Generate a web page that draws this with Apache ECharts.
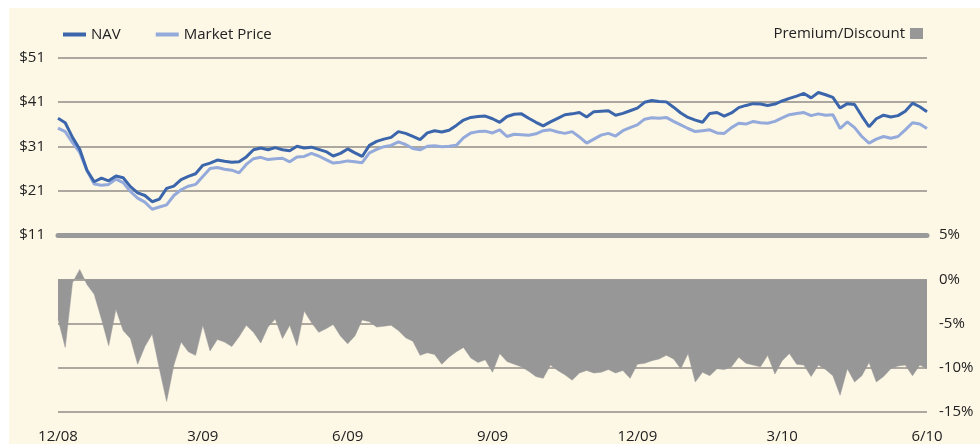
<!DOCTYPE html>
<html>
<head>
<meta charset="utf-8">
<title>NAV / Market Price</title>
<script src="https://cdn.jsdelivr.net/npm/echarts@6/dist/echarts.min.js"></script>
<style>
  html,body{margin:0;padding:0;background:#fff;}
  #panel{position:absolute;left:9px;top:8px;width:971px;height:436px;background:#fdf7e6;}
  #chart{position:absolute;left:0;top:0;width:980px;height:444px;}
</style>
</head>
<body>
<div id="panel"></div>
<div id="chart"></div>
<script>
// quarter labels along the bottom, 20 points per quarter
var tickLabels = ['12/08', '3/09', '6/09', '9/09', '12/09', '3/10', '6/10'];
var perQuarter = 20;

// NAV ($)
var nav = [
  37.3, 36.3, 33.0, 30.3, 25.6, 23.0, 23.8, 23.2, 24.3, 23.9,
  21.9, 20.5, 19.9, 18.5, 19.1, 21.5, 22.0, 23.5, 24.2, 24.8,
  26.7, 27.2, 27.9, 27.6, 27.4, 27.5, 28.6, 30.2, 30.6, 30.2,
  30.7, 30.2, 30.0, 31.0, 30.6, 30.8, 30.3, 29.8, 28.8, 29.4,
  30.4, 29.5, 28.7, 31.2, 32.1, 32.6, 33.0, 34.3, 33.9, 33.2,
  32.5, 34.0, 34.5, 34.2, 34.6, 35.7, 36.9, 37.5, 37.7, 37.8,
  37.2, 36.4, 37.7, 38.2, 38.3, 37.3, 36.4, 35.6, 36.5, 37.3,
  38.1, 38.3, 38.6, 37.6, 38.8, 38.9, 39.0, 38.0, 38.4, 39.0,
  39.6, 40.9, 41.3, 41.1, 41.0, 39.8, 38.5, 37.5, 36.9, 36.4,
  38.4, 38.6, 37.8, 38.5, 39.7, 40.2, 40.6, 40.5, 40.2, 40.5,
  41.2, 41.8, 42.3, 42.9, 41.9, 43.1, 42.6, 42.0, 39.6, 40.6,
  40.4, 37.8, 35.4, 37.2, 38.0, 37.6, 37.9, 38.9, 40.7, 39.9,
  38.8
];

// Market price ($)
var market = [
  35.1, 34.3, 31.8, 29.6, 25.5, 22.5, 22.2, 22.4, 23.6, 22.8,
  20.8, 19.3, 18.4, 16.8, 17.3, 17.8, 19.9, 21.2, 22.0, 22.4,
  24.2, 26.0, 26.2, 25.8, 25.6, 25.0, 26.9, 28.2, 28.5, 28.0,
  28.2, 28.3, 27.5, 28.6, 28.7, 29.4, 28.8, 28.0, 27.2, 27.4,
  27.7, 27.5, 27.3, 29.5, 30.3, 30.9, 31.2, 32.0, 31.4, 30.5,
  30.2, 31.0, 31.1, 30.9, 31.0, 31.2, 32.9, 34.0, 34.3, 34.4,
  34.0, 34.7, 33.2, 33.7, 33.6, 33.5, 33.8, 34.5, 34.7, 34.2,
  33.9, 34.3, 33.1, 31.7, 32.6, 33.5, 33.9, 33.3, 34.5, 35.2,
  35.8, 37.1, 37.4, 37.3, 37.5, 36.6, 35.8, 35.0, 34.3, 34.5,
  34.7, 34.0, 33.9, 35.2, 36.2, 36.0, 36.6, 36.3, 36.2, 36.6,
  37.4, 38.1, 38.4, 38.6, 37.9, 38.3, 38.0, 38.1, 35.0, 36.5,
  35.2, 33.2, 31.7, 32.6, 33.2, 32.8, 33.2, 34.7, 36.3, 36.0,
  35.0
];

// Premium/Discount (%)
var premium = [
  -4.5, -7.7, -0.4, 1.1, -0.6, -1.7, -4.5, -7.5, -3.4, -5.8,
  -6.7, -9.6, -7.6, -6.2, -10.1, -13.8, -9.7, -7.1, -8.2, -8.6,
  -5.2, -8.1, -6.8, -7.1, -7.6, -6.5, -5.2, -6.0, -7.2, -5.4,
  -4.5, -6.7, -5.2, -7.5, -3.6, -4.9, -6.0, -5.6, -5.1, -6.4,
  -7.3, -6.4, -4.6, -4.8, -5.4, -5.3, -5.2, -5.8, -6.6, -7.0,
  -8.6, -8.3, -8.5, -9.6, -8.8, -8.2, -7.7, -8.9, -9.4, -9.1,
  -10.5, -8.4, -9.3, -9.6, -9.9, -10.4, -11.0, -11.2, -9.7, -10.3,
  -10.8, -11.4, -10.6, -10.3, -10.6, -10.5, -10.2, -10.6, -10.3, -11.2,
  -9.6, -9.5, -9.2, -9.0, -8.6, -9.0, -10.1, -8.4, -11.6, -10.5,
  -10.9, -10.1, -10.2, -9.9, -8.8, -9.5, -9.7, -9.9, -8.6, -10.7,
  -9.2, -8.4, -9.6, -9.7, -11.0, -9.7, -10.2, -10.9, -13.1, -10.1,
  -11.6, -10.9, -9.4, -11.6, -11.0, -10.1, -9.8, -9.7, -10.9, -9.7,
  -10.1
];

var categories = [];
for (var i = 0; i < nav.length; i++) {
  categories.push(i % perQuarter === 0 ? tickLabels[i / perQuarter] : '');
}

var FONT = 'Open Sans';
var gridColor = '#aca89f';

var myChart = echarts.init(document.getElementById('chart'));
var option = {
  animation: false,
  backgroundColor: 'transparent',
  textStyle: { fontFamily: FONT, color: '#222' },
  legend: [{
    left: 58,
    top: 22,
    itemWidth: 23,
    itemHeight: 4,
    itemGap: 35,
    icon: 'rect',
    textStyle: { fontSize: 15, color: '#222', fontFamily: FONT },
    data: ['NAV', 'Market Price']
  }, {
    right: 52,
    top: 21,
    align: 'right',
    itemWidth: 13,
    itemHeight: 11,
    icon: 'rect',
    textStyle: { fontSize: 15, color: '#222', fontFamily: FONT },
    data: ['Premium/Discount']
  }],
  grid: [
    { left: 58, right: 53, top: 57.5, height: 177.5 },
    { left: 58, right: 53, top: 235, height: 178 }
  ],
  xAxis: [{
    gridIndex: 0,
    type: 'category',
    data: categories,
    boundaryGap: false,
    axisLine: { show: true, lineStyle: { color: '#9a9a9a', width: 5 } },
    axisTick: { show: false },
    axisLabel: { show: false },
    splitLine: { show: false }
  }, {
    gridIndex: 1,
    type: 'category',
    data: categories,
    boundaryGap: false,
    axisLine: { show: false },
    axisTick: { show: false },
    axisLabel: {
      interval: function (idx, val) { return val !== ''; },
      margin: 17,
      fontSize: 15,
      color: '#222',
      fontFamily: FONT
    },
    splitLine: { show: false }
  }],
  yAxis: [{
    gridIndex: 0,
    type: 'value',
    min: 11,
    max: 51,
    interval: 10,
    axisLine: { show: false },
    axisTick: { show: false },
    axisLabel: {
      margin: 13,
      fontSize: 15,
      color: '#222',
      fontFamily: FONT,
      formatter: function (v) { return '$' + v; }
    },
    splitLine: { lineStyle: { color: gridColor, width: 2 } }
  }, {
    gridIndex: 1,
    type: 'value',
    position: 'right',
    min: -15,
    max: 5,
    interval: 5,
    axisLine: { show: false },
    axisTick: { show: false },
    axisLabel: {
      margin: 12,
      fontSize: 15,
      color: '#222',
      fontFamily: FONT,
      formatter: function (v) { return v + '%'; }
    },
    splitLine: { lineStyle: { color: gridColor, width: 2 } }
  }],
  series: [{
    name: 'NAV',
    type: 'line',
    xAxisIndex: 0,
    yAxisIndex: 0,
    data: nav,
    showSymbol: false,
    color: '#3c66ab',
    lineStyle: { width: 3, color: '#3c66ab' },
    z: 3
  }, {
    name: 'Market Price',
    type: 'line',
    xAxisIndex: 0,
    yAxisIndex: 0,
    data: market,
    showSymbol: false,
    color: '#94aadb',
    lineStyle: { width: 3, color: '#94aadb' },
    z: 2
  }, {
    name: 'Premium/Discount',
    type: 'line',
    xAxisIndex: 1,
    yAxisIndex: 1,
    data: premium,
    showSymbol: false,
    color: '#979797',
    lineStyle: { width: 0.5, color: '#979797' },
    areaStyle: { color: '#979797', opacity: 1 }
  }]
};
myChart.setOption(option);
</script>
</body>
</html>
